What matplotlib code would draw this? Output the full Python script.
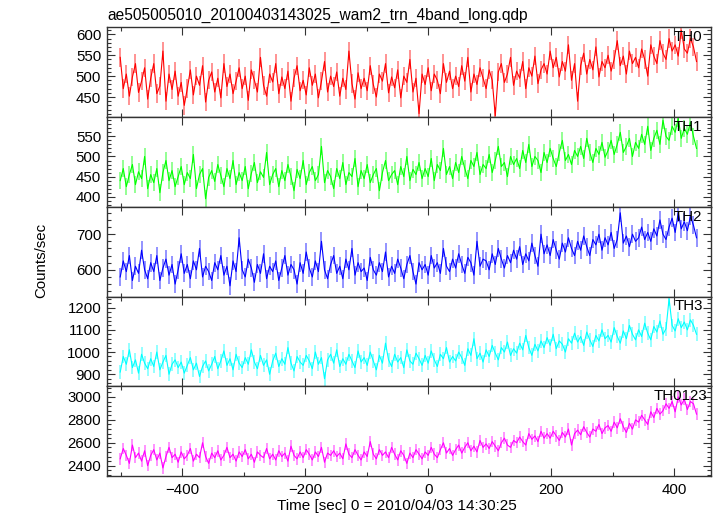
import numpy as np
import matplotlib
matplotlib.use("Agg")
import matplotlib.pyplot as plt
from matplotlib.ticker import MultipleLocator

plt.rcParams["font.family"] = ["Liberation Sans", "DejaVu Sans"]
plt.rcParams["font.size"] = 10.8

# ── light curve data, ~5 s bins starting at t = -501 s ──
t_start = -501
t_bin = 4.96

th0 = [
    545, 470, 505, 452, 498, 530, 461, 488, 520, 445,
    495, 530, 458, 476, 560, 440, 505, 468, 512, 452,
    485, 430, 470, 515, 455, 500, 478, 525, 438, 490,
    510, 462, 495, 448, 530, 475, 505, 458, 488, 520,
    470, 500, 442, 515, 490, 462, 545, 478, 452, 505,
    486, 530, 458, 498, 470, 512, 440, 495, 525, 465,
    490, 455, 520, 478, 505, 448, 488, 535, 462, 500,
    475, 510, 452, 495, 468, 560, 482, 445, 508, 470,
    495, 465, 525, 480, 450, 505, 488, 530, 460, 498,
    472, 515, 448, 500, 485, 540, 462, 495, 410, 505,
    480, 520, 465, 505, 490, 458, 530, 485, 512, 470,
    500, 475, 525, 488, 545, 462, 505, 480, 520, 495,
    470, 515, 490, 405, 510, 530, 485, 505, 545, 478,
    512, 495, 535, 470, 520, 500, 548, 482, 515, 530,
    505, 560, 520, 545, 498, 535, 512, 575, 490, 530,
    440, 525, 555, 505, 540, 515, 570, 498, 535, 520,
    550, 512, 540, 585, 525, 548, 505, 560, 530, 545,
    520, 565, 540, 500, 575, 548, 530, 585, 555, 540,
    590, 560, 575, 548, 610, 565, 555, 590, 570, 535,
]

th1 = [
    440, 470, 425, 455, 480, 430, 462, 445, 500, 420,
    455, 435, 470, 410, 460, 490, 440, 465, 425, 450,
    475, 430, 460, 445, 505, 420, 455, 470, 395, 448,
    465, 438, 480, 452, 425, 470, 445, 490, 430, 460,
    440, 475, 420, 458, 485, 435, 462, 448, 510, 430,
    455, 470, 425, 465, 440, 480, 450, 415, 468, 445,
    490, 430, 460, 475, 440, 455, 525, 435, 465, 450,
    420, 470, 445, 485, 430, 460, 450, 495, 425, 465,
    445, 480, 435, 455, 470, 415, 460, 490, 440, 455,
    465, 430, 475, 450, 500, 440, 468, 455, 485, 445,
    470, 450, 495, 440, 480, 465, 520, 455, 475, 445,
    485, 460, 500, 470, 445, 490, 475, 510, 455, 480,
    470, 505, 460, 490, 525, 475, 485, 450, 500, 480,
    495, 470, 515, 485, 530, 475, 500, 490, 460, 510,
    485, 520, 495, 475, 510, 540, 490, 505, 480, 515,
    500, 525, 495, 545, 510, 485, 520, 505, 535, 498,
    515, 540, 505, 530, 560, 510, 525, 545, 500, 535,
    520, 555, 530, 575, 515, 545, 565, 530, 590, 550,
    540, 575, 560, 595, 545, 570, 555, 585, 550, 520,
]

th2 = [
    580, 625, 595, 640, 570, 610, 590, 655, 600, 575,
    620, 595, 640, 570, 605, 630, 585, 615, 560, 600,
    645, 590, 615, 575, 625, 600, 660, 580, 610, 595,
    570, 620, 600, 640, 585, 610, 555, 625, 595, 690,
    600, 580, 630, 605, 565, 615, 590, 645, 575, 610,
    595, 625, 570, 605, 640, 585, 615, 600, 560, 620,
    590, 650, 605, 580, 625, 595, 680, 600, 575, 615,
    640, 590, 610, 575, 630, 600, 660, 585, 620, 595,
    605, 570, 635, 600, 585, 620, 595, 650, 580, 610,
    590, 630, 605, 575, 615, 640, 595, 560, 620, 600,
    615, 585, 640, 605, 620, 590, 660, 610, 595, 630,
    605, 645, 615, 590, 635, 620, 585, 680, 610, 630,
    625, 600, 645, 615, 660, 630, 605, 640, 620, 655,
    630, 665, 615, 645, 625, 675, 640, 610, 700, 645,
    670, 640, 685, 655, 630, 675, 650, 690, 660, 640,
    680, 655, 695, 665, 640, 685, 670, 700, 655, 690,
    670, 705, 660, 685, 760, 675, 695, 665, 700, 680,
    690, 720, 685, 705, 680, 715, 695, 740, 700, 685,
    720, 745, 705, 760, 715, 735, 710, 750, 725, 690,
]

th3 = [
    910, 980, 945, 1010, 930, 965, 905, 990, 950, 925,
    970, 935, 1000, 920, 955, 985, 900, 945, 965, 930,
    955, 905, 940, 975, 920, 950, 890, 935, 960, 915,
    945, 980, 925, 960, 1005, 940, 970, 920, 990, 950,
    930, 975, 945, 1010, 955, 925, 985, 940, 965, 900,
    960, 995, 935, 970, 945, 1020, 950, 915, 980, 955,
    940, 985, 960, 925, 1000, 945, 975, 880, 965, 990,
    950, 1010, 935, 970, 945, 990, 960, 930, 1005, 955,
    975, 940, 1000, 960, 920, 985, 950, 1040, 965, 935,
    990, 955, 975, 930, 1010, 960, 945, 995, 970, 940,
    985, 950, 1005, 965, 935, 990, 970, 1020, 955, 980,
    960, 1000, 975, 940, 1015, 985, 1060, 970, 995, 955,
    1010, 980, 1030, 995, 965, 1020, 1000, 1045, 985, 1015,
    995, 1040, 1010, 1075, 1020, 985, 1035, 1005, 1050, 1020,
    1065, 1030, 1080, 1015, 1050, 1035, 1000, 1060, 1040, 1085,
    1045, 1070, 1030, 1090, 1055, 1025, 1075, 1050, 1100, 1060,
    1075, 1045, 1110, 1070, 1040, 1095, 1060, 1120, 1080, 1055,
    1100, 1070, 1130, 1085, 1055, 1115, 1090, 1140, 1080, 1105,
    1240, 1120, 1095, 1150, 1110, 1135, 1100, 1145, 1120, 1080,
]

th0123 = [
    2460, 2550, 2490, 2420, 2580, 2470, 2510, 2440, 2530, 2400,
    2490, 2540, 2450, 2510, 2380, 2480, 2560, 2470, 2500, 2430,
    2520, 2460, 2490, 2550, 2440, 2500, 2470, 2600, 2480, 2420,
    2510, 2470, 2530, 2450, 2490, 2560, 2470, 2500, 2440, 2520,
    2480, 2540, 2460, 2500, 2430, 2520, 2490, 2470, 2550, 2460,
    2500, 2450, 2530, 2480, 2510, 2440, 2570, 2490, 2460, 2520,
    2470, 2540, 2500, 2450, 2520, 2480, 2560, 2430, 2510, 2490,
    2530, 2480, 2510, 2460, 2590, 2500, 2470, 2540, 2490, 2450,
    2520, 2480, 2610, 2500, 2460, 2540, 2490, 2520, 2470, 2560,
    2500, 2450, 2530, 2490, 2420, 2510, 2470, 2540, 2500, 2460,
    2520, 2490, 2560, 2500, 2470, 2540, 2600, 2510, 2550, 2490,
    2540, 2580, 2510, 2560, 2600, 2530, 2570, 2520, 2620, 2560,
    2590, 2550, 2610, 2570, 2530, 2600, 2640, 2580, 2560, 2620,
    2600, 2650, 2610, 2580, 2680, 2630, 2660, 2610, 2700, 2640,
    2680, 2640, 2700, 2660, 2620, 2690, 2650, 2720, 2580, 2680,
    2710, 2670, 2740, 2690, 2650, 2720, 2700, 2760, 2680, 2730,
    2750, 2700, 2780, 2730, 2810, 2740, 2690, 2770, 2720, 2800,
    2780, 2840, 2800, 2760, 2870, 2820, 2900, 2850, 2880, 2940,
    2900, 2960, 2870, 3000, 2930, 2980, 2890, 2960, 2940, 2850,
]

band_names = ["TH0", "TH1", "TH2", "TH3", "TH0123"]
band_rates = [th0, th1, th2, th3, th0123]
band_errors = [22, 21, 25, 31, 50]   # typical 1-sigma error per bin

# ── styling ──
colors = ["#ff0000", "#00ff00", "#0000ff", "#00ffff", "#ff00ff"]
light = ["#ff8a8a", "#8aff8a", "#8a8aff", "#8affff", "#ff8aff"]
ylims = [(402, 617), (375, 598), (525, 777), (846, 1250), (2310, 3093)]
ymajor = [50, 50, 100, 100, 200]
yminor = [10, 10, 20, 20, 40]
label_x = [0.986, 0.986, 0.986, 0.986, 0.994]

W, H = 717, 516
fig, axes = plt.subplots(5, 1, figsize=(W / 100, H / 100), dpi=100, sharex=True)
fig.subplots_adjust(left=106.7 / W, right=711 / W, top=1 - 27.3 / H,
                    bottom=1 - 476 / H, hspace=0)

for k, ax in enumerate(axes):
    y = np.array(band_rates[k], dtype=float)
    t = t_start + t_bin * np.arange(len(y))
    ax.errorbar(t, y, yerr=band_errors[k], fmt="none", ecolor=light[k],
                elinewidth=1.3, zorder=1)
    ax.plot(t, y, color=colors[k], lw=0.8, zorder=2)

    ax.set_xlim(-523, 460)
    ax.set_ylim(*ylims[k])
    ax.xaxis.set_major_locator(MultipleLocator(200))
    ax.xaxis.set_minor_locator(MultipleLocator(100))
    ax.yaxis.set_major_locator(MultipleLocator(ymajor[k]))
    ax.yaxis.set_minor_locator(MultipleLocator(yminor[k]))
    ax.tick_params(which="both", direction="in", top=True, right=True,
                   color="#333333", width=0.8)
    ax.tick_params(which="major", length=6, pad=4, labelsize=10.8)
    ax.tick_params(which="minor", length=3)
    for sp in ax.spines.values():
        sp.set_color("#333333")
        sp.set_linewidth(1.0)
    ax.text(label_x[k], 0.89, band_names[k], transform=ax.transAxes,
            ha="right", va="center", fontsize=10.8, color="black", zorder=5)

axes[-1].tick_params(axis="x", pad=5)

fig.text(107 / W, 1 - 15 / H,
         "ae505005010_20100403143025_wam2_trn_4band_long.qdp",
         ha="left", va="center", fontsize=11.2)
fig.text(41 / W, 1 - 260 / H, "Counts/sec", rotation=90,
         ha="center", va="center", fontsize=10.8)
fig.text(397 / W, 1 - 506 / H, "Time [sec] 0 = 2010/04/03 14:30:25",
         ha="center", va="center", fontsize=11)

fig.savefig("out.png", dpi=100, facecolor="white")
